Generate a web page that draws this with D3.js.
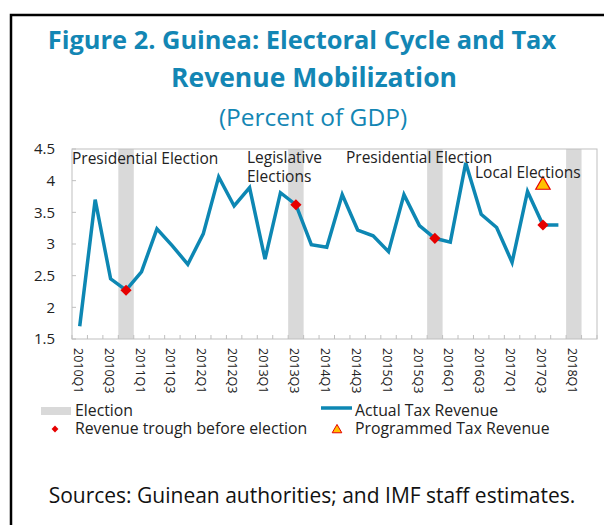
<!DOCTYPE html>
<html>
<head>
<meta charset="utf-8">
<script src="https://cdn.jsdelivr.net/npm/d3@7/dist/d3.min.js"></script>
<style>
  body { margin: 0; background: #fff; }
  svg { display: block; font-family: "Open Sans", "Noto Sans", sans-serif; }
</style>
</head>
<body>
<svg width="604" height="525"></svg>
<script>
// quarters on the x axis (2010Q1 .. 2018Q2)
var quarters = ["2010Q1","2010Q2","2010Q3","2010Q4","2011Q1","2011Q2","2011Q3","2011Q4",
  "2012Q1","2012Q2","2012Q3","2012Q4","2013Q1","2013Q2","2013Q3","2013Q4",
  "2014Q1","2014Q2","2014Q3","2014Q4","2015Q1","2015Q2","2015Q3","2015Q4",
  "2016Q1","2016Q2","2016Q3","2016Q4","2017Q1","2017Q2","2017Q3","2017Q4",
  "2018Q1","2018Q2"];

// labels shown under the axis
var tickLabels = ["2010Q1","2010Q3","2011Q1","2011Q3","2012Q1","2012Q3","2013Q1","2013Q3",
  "2014Q1","2014Q3","2015Q1","2015Q3","2016Q1","2016Q3","2017Q1","2017Q3","2018Q1"];

// actual tax revenue, percent of GDP (2010Q1 .. 2017Q4)
var actualRevenue = [1.7, 3.7, 2.45, 2.27, 2.56, 3.24, 2.97, 2.68,
  3.16, 4.06, 3.6, 3.89, 2.76, 3.81, 3.62, 2.99,
  2.95, 3.78, 3.22, 3.13, 2.88, 3.78, 3.29, 3.09,
  3.03, 4.28, 3.47, 3.26, 2.71, 3.83, 3.3, 3.3];

// election quarters (shaded)
var electionQuarters = ["2010Q4", "2013Q3", "2015Q4", "2018Q1"];

// revenue trough before election
var troughQuarters = ["2010Q4", "2013Q3", "2015Q4", "2017Q3"];

// programmed tax revenue
var programmedQuarters = ["2017Q3"];
var programmedValues = [3.93];

var yTicks = [1.5, 2, 2.5, 3, 3.5, 4, 4.5];

var blue = "#0d87b3";
var titleBlue = "#1386b4";

var svg = d3.select("svg");

// outer frame
svg.append("rect")
    .attr("x", 11).attr("y", 15)
    .attr("width", 700).attr("height", 600)
    .attr("fill", "none")
    .attr("stroke", "#000")
    .attr("stroke-width", 2.5);

// titles
svg.append("text")
    .attr("x", 302).attr("y", 49)
    .attr("text-anchor", "middle")
    .attr("font-size", 25.4).attr("font-weight", 700)
    .attr("fill", titleBlue)
    .text("Figure 2. Guinea: Electoral Cycle and Tax");
svg.append("text")
    .attr("x", 314).attr("y", 87)
    .attr("text-anchor", "middle")
    .attr("font-size", 26.5).attr("font-weight", 700)
    .attr("fill", titleBlue)
    .text("Revenue Mobilization");
svg.append("text")
    .attr("x", 313).attr("y", 126)
    .attr("text-anchor", "middle")
    .attr("font-size", 24.5)
    .attr("fill", titleBlue)
    .text("(Percent of GDP)");

var margin = { left: 72, right: 597, top: 149, bottom: 339 };

var x = d3.scaleBand()
    .domain(quarters)
    .range([margin.left, margin.right])
    .padding(0);

var y = d3.scaleLinear()
    .domain([1.5, 4.5])
    .range([margin.bottom, margin.top]);

var g = svg.append("g");

// election shading
g.selectAll(".election")
    .data(electionQuarters)
    .enter().append("rect")
    .attr("class", "election")
    .attr("x", function (d) { return x(d); })
    .attr("y", margin.top)
    .attr("width", x.bandwidth())
    .attr("height", margin.bottom - margin.top)
    .attr("fill", "#d9d9d9");

// plot border
g.append("rect")
    .attr("x", margin.left).attr("y", margin.top)
    .attr("width", margin.right - margin.left)
    .attr("height", margin.bottom - margin.top)
    .attr("fill", "none")
    .attr("stroke", "#bfbfbf")
    .attr("stroke-width", 1);

// x ticks at category boundaries, pointing inward
var boundaries = quarters.map(function (d) { return x(d); }).concat([margin.right]);
g.selectAll(".xtick")
    .data(boundaries)
    .enter().append("line")
    .attr("x1", function (d) { return d; })
    .attr("x2", function (d) { return d; })
    .attr("y1", margin.bottom)
    .attr("y2", margin.bottom - 4)
    .attr("stroke", "#bfbfbf");

// y ticks + labels
g.selectAll(".ytick")
    .data(yTicks)
    .enter().append("line")
    .attr("x1", margin.left).attr("x2", margin.left + 4)
    .attr("y1", function (d) { return y(d); })
    .attr("y2", function (d) { return y(d); })
    .attr("stroke", "#bfbfbf");
g.selectAll(".ylabel")
    .data(yTicks)
    .enter().append("text")
    .attr("class", "ylabel")
    .attr("x", 55)
    .attr("y", function (d) { return y(d); })
    .attr("dy", "0.35em")
    .attr("text-anchor", "end")
    .attr("font-size", 15)
    .attr("fill", "#222")
    .text(function (d) { return d; });

// x tick labels, rotated
g.selectAll(".xlabel")
    .data(tickLabels)
    .enter().append("text")
    .attr("class", "xlabel")
    .attr("transform", function (d) {
        return "translate(" + (x(d) + x.bandwidth() / 2 - 1.5) + ",348) rotate(90)";
    })
    .attr("dy", "0.35em")
    .attr("font-size", 12.5)
    .attr("fill", "#222")
    .text(function (d) { return d; });

// actual revenue line
var line = d3.line()
    .x(function (d, i) { return x(quarters[i]) + x.bandwidth() / 2; })
    .y(function (d) { return y(d); });

g.append("path")
    .datum(actualRevenue)
    .attr("d", line)
    .attr("fill", "none")
    .attr("stroke", blue)
    .attr("stroke-width", 3.5)
    .attr("stroke-linejoin", "miter");

// trough diamonds
var diamond = d3.symbol().type(d3.symbolDiamond2).size(80);
g.selectAll(".trough")
    .data(troughQuarters)
    .enter().append("path")
    .attr("class", "trough")
    .attr("d", diamond)
    .attr("transform", function (d) {
        var i = quarters.indexOf(d);
        return "translate(" + (x(d) + x.bandwidth() / 2) + "," + y(actualRevenue[i]) + ")";
    })
    .attr("fill", "#e60000");

// programmed triangle
var tri = d3.symbol().type(d3.symbolTriangle).size(90);
g.selectAll(".programmed")
    .data(programmedQuarters)
    .enter().append("path")
    .attr("class", "programmed")
    .attr("d", tri)
    .attr("transform", function (d, i) {
        return "translate(" + (x(d) + x.bandwidth() / 2) + "," + y(programmedValues[i]) + ")";
    })
    .attr("fill", "#ffc000")
    .attr("stroke", "#e60000")
    .attr("stroke-width", 1.2);

// election annotations
var notes = [
    { t: "Presidential Election", x: 72, y: 164 },
    { t: "Legislative", x: 247, y: 163 },
    { t: "Elections", x: 247, y: 182 },
    { t: "Presidential Election", x: 346, y: 163 },
    { t: "Local Elections", x: 475, y: 178 }
];
g.selectAll(".note")
    .data(notes)
    .enter().append("text")
    .attr("x", function (d) { return d.x; })
    .attr("y", function (d) { return d.y; })
    .attr("font-size", 15.5)
    .attr("fill", "#222")
    .text(function (d) { return d.t; });

// legend
var lg = svg.append("g").attr("font-size", 15.8).attr("fill", "#222");
lg.append("rect")
    .attr("x", 41).attr("y", 407).attr("width", 30).attr("height", 8)
    .attr("fill", "#d9d9d9");
lg.append("text").attr("x", 75).attr("y", 415.5).text("Election");

lg.append("line")
    .attr("x1", 321).attr("x2", 352).attr("y1", 408).attr("y2", 408)
    .attr("stroke", blue).attr("stroke-width", 3.5);
lg.append("text").attr("x", 355).attr("y", 415.5).text("Actual Tax Revenue");

lg.append("path")
    .attr("d", d3.symbol().type(d3.symbolDiamond2).size(30))
    .attr("transform", "translate(55,429)")
    .attr("fill", "#e60000");
lg.append("text").attr("x", 75).attr("y", 434).text("Revenue trough before election");

lg.append("path")
    .attr("d", d3.symbol().type(d3.symbolTriangle).size(40))
    .attr("transform", "translate(337,430)")
    .attr("fill", "#ffc000")
    .attr("stroke", "#e60000")
    .attr("stroke-width", 1);
lg.append("text").attr("x", 355).attr("y", 434).text("Programmed Tax Revenue");

// source note
svg.append("text")
    .attr("x", 312).attr("y", 503)
    .attr("text-anchor", "middle")
    .attr("font-size", 21)
    .attr("fill", "#111")
    .text("Sources: Guinean authorities; and IMF staff estimates.");
</script>
</body>
</html>
